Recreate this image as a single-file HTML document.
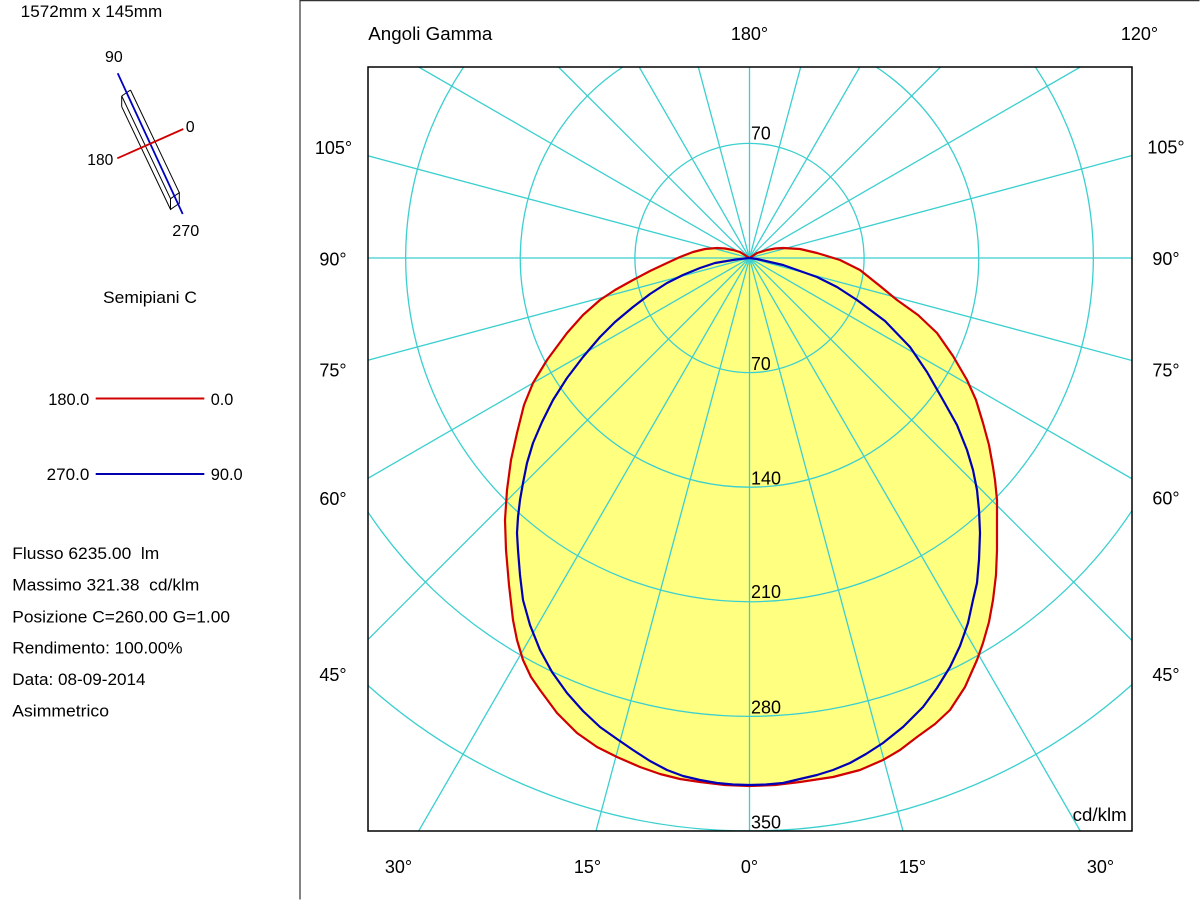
<!DOCTYPE html>
<html>
<head>
<meta charset="utf-8">
<style>
  html, body { margin:0; padding:0; background:#fff; width:1200px; height:900px; overflow:hidden; }
  svg { display:block; }
  text { font-family: "Liberation Sans", Arial, sans-serif; fill:#000; }
</style>
</head>
<body>
<svg width="1200" height="900" viewBox="0 0 1200 900" xmlns="http://www.w3.org/2000/svg" overflow="hidden">
  <rect x="0" y="0" width="1200" height="900" fill="#fff"/>

  <!-- outer frame -->
  <line x1="300" y1="0" x2="300" y2="899.5" stroke="#333" stroke-width="1.2"/>
  <line x1="300" y1="0.6" x2="1199.5" y2="0.6" stroke="#333" stroke-width="1.2"/>

  <!-- ========== LEFT PANEL ========== -->
  <text x="20.7" y="17" font-size="17" textLength="141.6" lengthAdjust="spacingAndGlyphs">1572mm x 145mm</text>

  <!-- luminaire icon -->
  <g fill="none" stroke="#000" stroke-width="1">
    <line x1="121.7" y1="96" x2="130.5" y2="90"/>
    <line x1="121.7" y1="96" x2="121.7" y2="106.7"/>
    <line x1="130.5" y1="90" x2="179.3" y2="192.7"/>
    <line x1="121.7" y1="96" x2="170.5" y2="198.7"/>
    <line x1="121.7" y1="106.7" x2="170.5" y2="209.4"/>
    <polygon points="170.5,198.7 179.3,192.7 179.3,203.4 170.5,209.4"/>
  </g>
  <line x1="117.7" y1="73.3" x2="182.7" y2="214" stroke="#0000c0" stroke-width="1.8"/>
  <line x1="117.3" y1="158.3" x2="183.3" y2="129" stroke="#d00000" stroke-width="1.8"/>
  <text x="105" y="62" font-size="16" textLength="17.7" lengthAdjust="spacingAndGlyphs">90</text>
  <text x="185.7" y="132" font-size="16">0</text>
  <text x="87.3" y="165" font-size="16" textLength="26" lengthAdjust="spacingAndGlyphs">180</text>
  <text x="172.3" y="236" font-size="16" textLength="27" lengthAdjust="spacingAndGlyphs">270</text>

  <text x="103" y="303" font-size="17" textLength="94" lengthAdjust="spacingAndGlyphs">Semipiani C</text>

  <!-- legend -->
  <text x="48.3" y="405" font-size="17" textLength="41" lengthAdjust="spacingAndGlyphs">180.0</text>
  <line x1="95.7" y1="398.5" x2="204.3" y2="398.5" stroke="#d00000" stroke-width="2"/>
  <text x="210.7" y="405" font-size="17" textLength="22.6" lengthAdjust="spacingAndGlyphs">0.0</text>

  <text x="46.7" y="480" font-size="17" textLength="42.6" lengthAdjust="spacingAndGlyphs">270.0</text>
  <line x1="95.7" y1="474" x2="204.3" y2="474" stroke="#0000b0" stroke-width="2"/>
  <text x="210.7" y="480" font-size="17" textLength="32" lengthAdjust="spacingAndGlyphs">90.0</text>

  <!-- info -->
  <text x="12.3" y="559" font-size="17" textLength="147" lengthAdjust="spacingAndGlyphs" xml:space="preserve">Flusso 6235.00  lm</text>
  <text x="12.3" y="590.7" font-size="17" textLength="187" lengthAdjust="spacingAndGlyphs" xml:space="preserve">Massimo 321.38  cd/klm</text>
  <text x="12.3" y="622.3" font-size="17" textLength="217.7" lengthAdjust="spacingAndGlyphs">Posizione C=260.00 G=1.00</text>
  <text x="12.3" y="653.3" font-size="17" textLength="170.3" lengthAdjust="spacingAndGlyphs">Rendimento: 100.00%</text>
  <text x="12.3" y="685" font-size="17" textLength="133.3" lengthAdjust="spacingAndGlyphs">Data: 08-09-2014</text>
  <text x="12.3" y="716.5" font-size="17" textLength="96.7" lengthAdjust="spacingAndGlyphs">Asimmetrico</text>

  <!-- ========== POLAR CHART ========== -->
  <defs>
    <clipPath id="box">
      <rect x="368" y="67" width="764" height="764"/>
    </clipPath>
  </defs>

  <g clip-path="url(#box)">
    <!-- yellow fill (inside red curve) -->
    <polygon fill="#ffff80" stroke="none" points="
749.5,258 740,252 733,250 725,248.5 717,248 705,249 693,252 680,257 667,263 650,271 633,280 615,290 600,300 583,315 567,333 547,360 533,383 524,405 517,433 511,460 507,490 505,520 506,550 509,585 513,620 517,640 523,660 531,677 540,690 557,713 577,733 597,747 617,757 640,767 660,774 680,779 700,782 725,785 749.5,786 775,785 800,782 833,777 860,770 883,760 900,750 917,737 935,724 950,710 965,687 977,660 983,643 989,622 993,600 996,575 997,550 997,525 997,500 995,480 993,467 989,445 983,423 976,400 967,380 953,356 937,333 918,315 897,300 880,286 860,270 840,260 817,253 800,249 783,248 775,248.5 767,250 757,253"/>

    <!-- grid -->
    <g stroke="#3ccfcf" stroke-width="1.3" fill="none">
      <line x1="749.5" y1="831" x2="749.5" y2="67"/>
      <line x1="903" y1="831" x2="698.3" y2="67"/>
      <line x1="1080.3" y1="831" x2="639.2" y2="67"/>
      <line x1="1132" y1="640.5" x2="558.5" y2="67"/>
      <line x1="1132" y1="478.8" x2="418.7" y2="67"/>
      <line x1="1132" y1="360.5" x2="368" y2="155.8"/>
      <line x1="1132" y1="258" x2="368" y2="258"/>
      <line x1="1132" y1="155.5" x2="368" y2="360.2"/>
      <line x1="1080.3" y1="67" x2="368" y2="478.3"/>
      <line x1="940.5" y1="67" x2="368" y2="639.5"/>
      <line x1="859.8" y1="67" x2="418.7" y2="831"/>
      <line x1="800.7" y1="67" x2="596" y2="831"/>
      <circle cx="749.5" cy="258" r="114.6"/>
      <path d="M876.2 67 A229.2 229.2 0 1 1 622.8 67"/>
      <path d="M1035.4 67 A343.8 343.8 0 1 1 463.6 67"/>
      <path d="M1132 510.6 A458.4 458.4 0 0 1 368 512.1"/>
      <path d="M1132 684.6 A573 573 0 0 1 368 685.5"/>
    </g>

    <!-- radial value labels -->
    <g font-size="18">
      <text x="751" y="139.5" textLength="19.7" lengthAdjust="spacingAndGlyphs">70</text>
      <text x="751" y="370" textLength="19.7" lengthAdjust="spacingAndGlyphs">70</text>
      <text x="751" y="484.3" textLength="30" lengthAdjust="spacingAndGlyphs">140</text>
      <text x="751" y="598" textLength="30" lengthAdjust="spacingAndGlyphs">210</text>
      <text x="751" y="713.3" textLength="30" lengthAdjust="spacingAndGlyphs">280</text>
      <text x="751" y="828.3" textLength="30" lengthAdjust="spacingAndGlyphs">350</text>
      <text x="1072.7" y="821" textLength="54" lengthAdjust="spacingAndGlyphs">cd/klm</text>
    </g>

    <!-- red curve C0-C180 -->
    <polyline fill="none" stroke="#d00000" stroke-width="2.2" stroke-linejoin="round" points="
749.5,258 740,252 733,250 725,248.5 717,248 705,249 693,252 680,257 667,263 650,271 633,280 615,290 600,300 583,315 567,333 547,360 533,383 524,405 517,433 511,460 507,490 505,520 506,550 509,585 513,620 517,640 523,660 531,677 540,690 557,713 577,733 597,747 617,757 640,767 660,774 680,779 700,782 725,785 749.5,786 775,785 800,782 833,777 860,770 883,760 900,750 917,737 935,724 950,710 965,687 977,660 983,643 989,622 993,600 996,575 997,550 997,525 997,500 995,480 993,467 989,445 983,423 976,400 967,380 953,356 937,333 918,315 897,300 880,286 860,270 840,260 817,253 800,249 783,248 775,248.5 767,250 757,253 749.5,258"/>

    <!-- blue curve C90-C270 -->
    <polyline fill="none" stroke="#0000b8" stroke-width="2.2" stroke-linejoin="round" points="
749.5,258 740,259 733,260 715,263 700,268 683,275 667,283 650,294 633,307 615,322 600,337 583,357 567,378 553,400 542,422 533,443 527,463 523,483 520,500 518,517 517,533 518,550 520,575 523,600 530,625 540,650 552,672 567,693 583,711 600,727 617,739 633,750 650,761 667,770 683,776 700,780 717,783 733,784.5 749.5,785 766,784.5 783,783 800,779 817,775 833,770 850,763 866,754 883,743 903,727 923,707 937,688 950,667 960,646 968,623 973,600 977,583 979,560 980,533 979,510 977,490 973,470 967,450 957,425 943,400 927,372 910,347 885,321 857,300 837,287 817,277 800,271 783,265 770,262 757,259 749.5,258"/>
  </g>

  <!-- plot box -->
  <rect x="368" y="67" width="764" height="764" fill="none" stroke="#000" stroke-width="1.5"/>

  <!-- top labels -->
  <text x="368.3" y="40" font-size="18" textLength="124" lengthAdjust="spacingAndGlyphs">Angoli Gamma</text>
  <text x="749.5" y="40" font-size="18" text-anchor="middle">180°</text>
  <text x="1139.5" y="40" font-size="18" text-anchor="middle">120°</text>

  <!-- side and bottom labels -->
  <g font-size="18" text-anchor="middle">
    <text x="333.5" y="154">105°</text>
    <text x="333" y="265.5">90°</text>
    <text x="333" y="376.7">75°</text>
    <text x="333" y="505">60°</text>
    <text x="333" y="681">45°</text>

    <text x="1166" y="153.5">105°</text>
    <text x="1166" y="265">90°</text>
    <text x="1166" y="376.7">75°</text>
    <text x="1166" y="504.5">60°</text>
    <text x="1166" y="681">45°</text>

    <text x="398.5" y="873">30°</text>
    <text x="587.5" y="873">15°</text>
    <text x="749.5" y="873">0°</text>
    <text x="912.5" y="873">15°</text>
    <text x="1100.5" y="873">30°</text>
  </g>
</svg>
</body>
</html>
